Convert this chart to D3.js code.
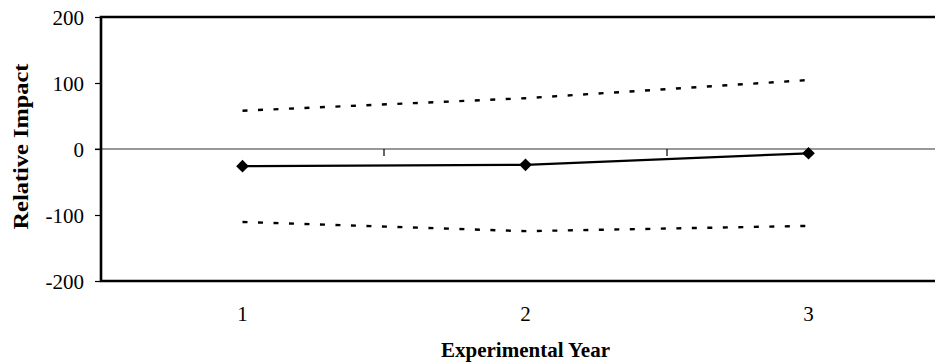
<!DOCTYPE html>
<html>
<head>
<meta charset="utf-8">
<script src="https://cdn.jsdelivr.net/npm/d3@7"></script>
<style>
  html, body { margin: 0; padding: 0; background: #fff; }
  svg { display: block; }
  text { font-family: "Liberation Serif", "Times New Roman", serif; fill: #000; }
</style>
</head>
<body>
<svg id="chart" width="935" height="364"></svg>
<script>
const years = ["1", "2", "3"];
const impact = [-26, -24, -6.5];
const upperBound = [58, 77, 104.5];
const lowerBound = [-110.5, -124.5, -116.5];
const yTicks = [-200, -100, 0, 100, 200];

(function () {
const svg = d3.select("#chart");
const pLeft = 101, pRight = 950, pTop = 17, pBottom = 281;

const x = d3.scaleBand().domain(years).range([pLeft, pRight]).padding(0);
const y = d3.scaleLinear().domain([-200, 200]).range([pBottom, pTop]);
const cx = d => x(d) + x.bandwidth() / 2;

// zero (category) axis line with ticks pointing down at band boundaries
svg.append("line")
  .attr("x1", pLeft - 6).attr("x2", 935)
  .attr("y1", y(0)).attr("y2", y(0))
  .attr("stroke", "#333").attr("stroke-width", 1.2);
years.slice(1).forEach(d => {
  svg.append("line")
    .attr("x1", x(d)).attr("x2", x(d))
    .attr("y1", y(0)).attr("y2", y(0) + 7)
    .attr("stroke", "#000").attr("stroke-width", 1.2);
});

// y axis ticks and labels
const yAxis = d3.axisLeft(y).tickValues(yTicks).tickSize(6).tickPadding(11)
  .tickFormat(d => String(d));
const gy = svg.append("g").attr("transform", `translate(${pLeft},0)`).call(yAxis);
gy.select(".domain").remove();
gy.selectAll(".tick line").attr("stroke", "#000").attr("stroke-width", 1.2);
gy.selectAll(".tick text")
  .style("font-family", '"Liberation Serif", serif')
  .style("font-size", "21px").attr("fill", "#000").attr("dy", "0.34em");

// plot border (top, left, bottom)
svg.append("path")
  .attr("d", `M${pRight},${pTop}H${pLeft}V${pBottom}H${pRight}`)
  .attr("fill", "none").attr("stroke", "#000").attr("stroke-width", 2.6);

// category labels
svg.selectAll("text.cat").data(years).enter().append("text")
  .attr("class", "cat")
  .attr("x", d => cx(d)).attr("y", 321)
  .attr("text-anchor", "middle")
  .style("font-size", "21px")
  .text(d => d);

// bounds (dashed)
const line = d3.line().x((d, i) => cx(years[i])).y(d => y(d));
[upperBound, lowerBound].forEach(arr => {
  svg.append("path").datum(arr)
    .attr("d", line)
    .attr("fill", "none").attr("stroke", "#000")
    .attr("stroke-width", 2.4)
    .attr("stroke-dasharray", "5,10.5");
});

// main series
svg.append("path").datum(impact)
  .attr("d", line)
  .attr("fill", "none").attr("stroke", "#000").attr("stroke-width", 2.2);

svg.selectAll("path.pt").data(impact).enter().append("path")
  .attr("class", "pt")
  .attr("d", d3.symbol().type(d3.symbolSquare).size(80))
  .attr("transform", (d, i) => `translate(${cx(years[i])},${y(d)}) rotate(45)`)
  .attr("fill", "#000");

// axis titles
svg.append("text")
  .attr("x", cx("2")).attr("y", 357)
  .attr("text-anchor", "middle")
  .style("font-size", "21px").style("font-weight", "bold")
  .text("Experimental Year");

svg.append("text")
  .attr("transform", `translate(28,146.5) rotate(-90)`)
  .attr("text-anchor", "middle")
  .attr("textLength", 166)
  .attr("lengthAdjust", "spacingAndGlyphs")
  .style("font-size", "22px").style("font-weight", "bold")
  .text("Relative Impact");
})();
</script>
</body>
</html>
